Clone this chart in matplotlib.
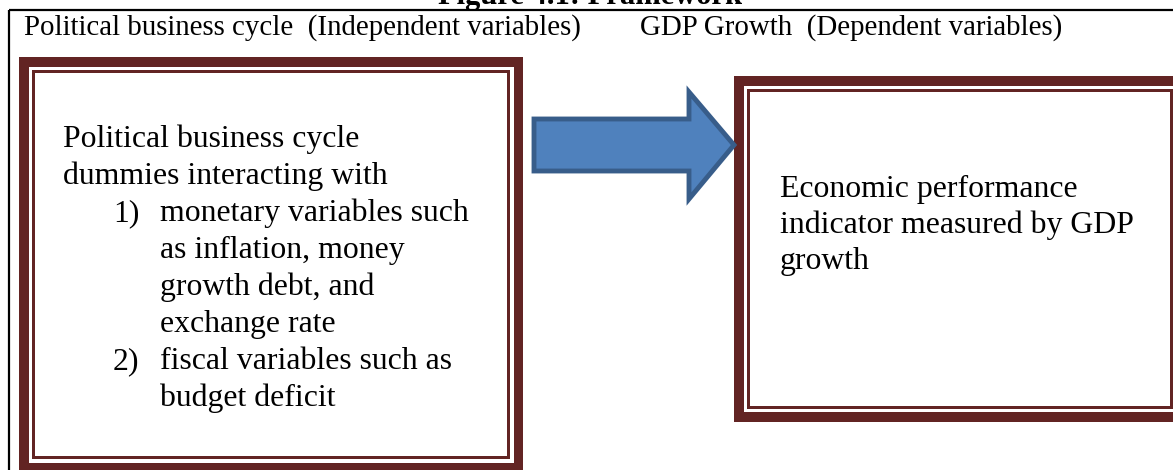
import matplotlib.pyplot as plt
from matplotlib.patches import Rectangle, Polygon

# texts of the diagram
title = "Figure 4.1: Framework"
header_left = "Political business cycle  (Independent variables)"
header_right = "GDP Growth  (Dependent variables)"
left_intro = ["Political business cycle", "dummies interacting with"]
left_items = [("1)", ["monetary variables such", "as inflation, money",
                      "growth debt, and", "exchange rate"]),
              ("2)", ["fiscal variables such as", "budget deficit"])]
right_lines = ["Economic performance", "indicator measured by GDP", "growth"]

maroon = "#622423"
serif = ["Liberation Serif", "DejaVu Serif"]

fig = plt.figure(figsize=(11.73, 4.70), dpi=100)
ax = fig.add_axes([0, 0, 1, 1])
ax.set_xlim(0, 1173)
ax.set_ylim(470, 0)
ax.axis("off")


def double_box(x0, y0, x1, y1, thick=9.5, gap=3.5, thin=3.0):
    # thick-thin frame: maroon band, white gap, thin maroon line
    steps = [(0, maroon), (thick, "white"), (thick + gap, maroon),
             (thick + gap + thin, "white")]
    for d, c in steps:
        ax.add_patch(Rectangle((x0 + d, y0 + d), (x1 - x0) - 2 * d,
                               (y1 - y0) - 2 * d, facecolor=c, edgecolor="none"))


# outer black frame (top and left)
ax.plot([9, 1173], [10, 10], color="black", lw=1.6, solid_capstyle="butt")
ax.plot([9, 9], [10, 470], color="black", lw=1.6, solid_capstyle="butt")

ax.text(590, 4, title, ha="center", va="baseline", fontsize=22,
        fontweight="bold", family=serif)
ax.text(24, 35, header_left, ha="left", va="baseline", fontsize=20.8, family=serif)
ax.text(640, 35, header_right, ha="left", va="baseline", fontsize=20.8, family=serif)

double_box(19, 57, 523, 472)
double_box(734, 76, 1186, 422, thick=10, gap=3, thin=3)

# block arrow
pts = [(534, 119), (689, 119), (689, 92), (734, 145), (689, 199),
       (689, 171), (534, 171)]
ax.add_patch(Polygon(pts, closed=True, facecolor="#4F81BD",
                     edgecolor="#385D8A", lw=3.5, joinstyle="miter"))

fs = 22.9
step = 37
y = 147
for line in left_intro:
    ax.text(63, y, line, ha="left", va="baseline", fontsize=fs, family=serif)
    y += step
for num, lines in left_items:
    ax.text(113, y, num, ha="left", va="baseline", fontsize=fs, family=serif)
    for line in lines:
        ax.text(160, y, line, ha="left", va="baseline", fontsize=fs, family=serif)
        y += step

y = 197
for line in right_lines:
    ax.text(780, y, line, ha="left", va="baseline", fontsize=fs, family=serif)
    y += 36

fig.savefig("out.png", dpi=100)
